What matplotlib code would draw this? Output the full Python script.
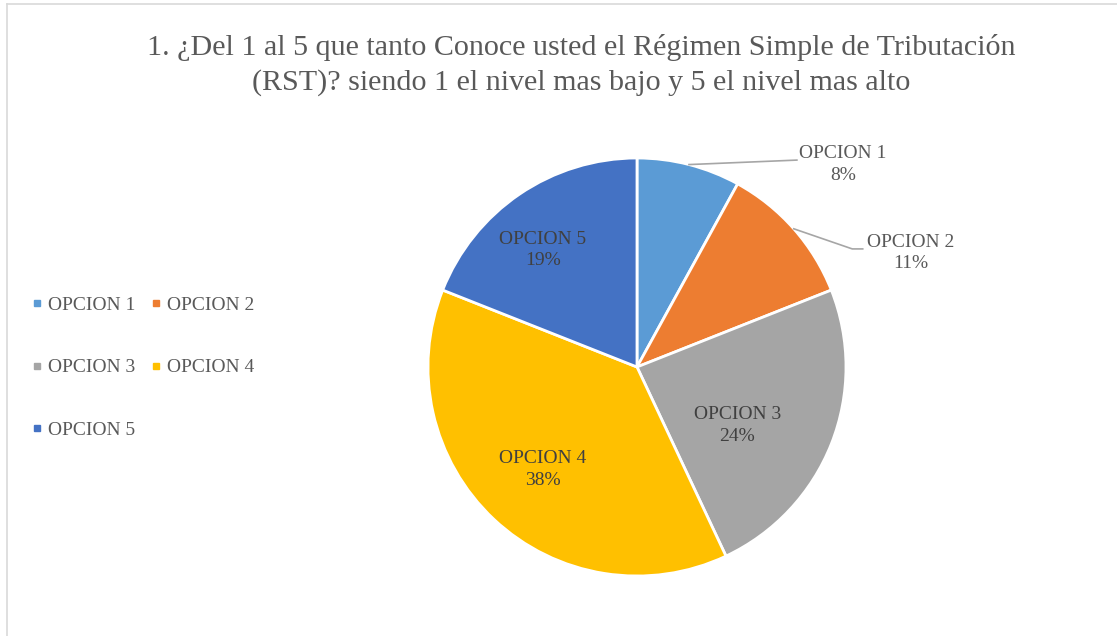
import matplotlib.pyplot as plt
from matplotlib.lines import Line2D
import numpy as np

# Data
categories = ['OPCION 1', 'OPCION 2', 'OPCION 3', 'OPCION 4', 'OPCION 5']
values = [8, 11, 24, 38, 19]
colors = ['#5B9BD5', '#ED7D31', '#A5A5A5', '#FFC000', '#4472C4']

title = ('1. ¿Del 1 al 5 que tanto Conoce usted el Régimen Simple de Tributación\n'
         '(RST)? siendo 1 el nivel mas bajo y 5 el nivel mas alto')

plt.rcParams['font.family'] = ['Liberation Serif', 'DejaVu Serif']
text_color = '#595959'

W, H = 1117, 636
fig = plt.figure(figsize=(W / 100, H / 100), dpi=100)

# pie axes: center (637, 367) px, radius 209 px
cx, cy, r = 637, 367, 209
ax = fig.add_axes([(cx - r) / W, (H - cy - r) / H, 2 * r / W, 2 * r / H])
wedges, _ = ax.pie(values, colors=colors, startangle=90, counterclock=False,
                   radius=1, wedgeprops=dict(edgecolor='white', linewidth=2))
ax.set_xlim(-1, 1)
ax.set_ylim(-1, 1)
ax.set_aspect('equal')
ax.axis('off')

lab_size = 14

# label placement (data units of the pie axes)
inside_pos = {2: (0.48, -0.28), 3: (-0.45, -0.49), 4: (-0.45, 0.56)}
for i, (x, y) in inside_pos.items():
    ax.text(x, y, f'{categories[i]}\n{values[i]}%', ha='center', va='center',
            fontsize=lab_size, color='#404040', linespacing=1.35)

# outside labels with leader lines
cum = np.cumsum([0] + values)
for i, (lx, ly, kx, ky) in {0: (0.985, 0.97, 0.765, 0.99),
                            1: (1.31, 0.545, 1.03, 0.565)}.items():
    mid = np.deg2rad(90 - (cum[i] + values[i] / 2) * 3.6)
    ex, ey = np.cos(mid), np.sin(mid)
    pts_x = [ex, kx]
    pts_y = [ey, ky]
    if i == 1:
        pts_x.append(kx + 0.05)
        pts_y.append(ky)
    ax.plot(pts_x, pts_y, color='#A6A6A6', lw=1.2, clip_on=False)
    ax.text(lx, ly, f'{categories[i]}\n{values[i]}%', ha='center', va='center',
            fontsize=lab_size, color=text_color, linespacing=1.35)

fig.text(581 / W, 1 - 65 / H, title, ha='center', va='center',
         fontsize=21.6, color=text_color, linespacing=1.38)

# legend, filled row by row
order = [0, 2, 4, 1, 3]
handles = [Line2D([], [], marker='s', linestyle='none', markersize=5,
                  markerfacecolor=colors[k], markeredgecolor=colors[k]) for k in order]
labels = [categories[k] for k in order]
fig.legend(handles, labels, ncol=2, loc='upper left',
           bbox_to_anchor=(14 / W, 1 - 279 / H), frameon=False,
           fontsize=lab_size, labelcolor=text_color, handlelength=0.6,
           handletextpad=0.25, columnspacing=0.75, labelspacing=2.3)

# chart border (top and left visible)
fig.add_artist(Line2D([7 / W, 1], [1 - 4 / H, 1 - 4 / H], color='#D9D9D9', lw=1.2))
fig.add_artist(Line2D([7 / W, 7 / W], [0, 1 - 4 / H], color='#D9D9D9', lw=1.2))

fig.savefig('out.png', dpi=100, facecolor='white')
